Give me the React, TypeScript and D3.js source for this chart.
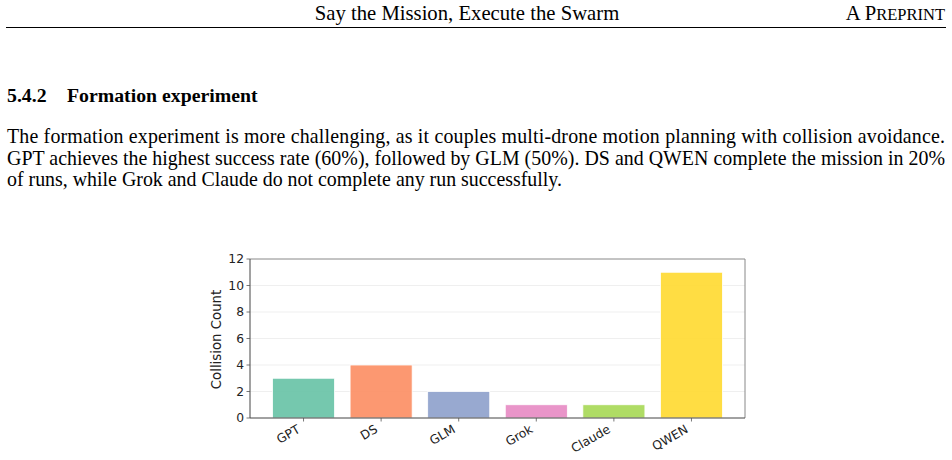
import React, { useEffect, useRef } from 'react';
import * as d3 from 'd3';

const models = ['GPT', 'DS', 'GLM', 'Grok', 'Claude', 'QWEN'];
const collisions = [3, 4, 2, 1, 1, 11];
const barColors = ['#66c2a5', '#fc8d62', '#8da0cb', '#e78ac3', '#a6d854', '#ffd92f'];
const yTicks = [0, 2, 4, 6, 8, 10, 12];

const paragraph = [
  'The formation experiment is more challenging, as it couples multi-drone motion planning with collision avoidance.',
  'GPT achieves the highest success rate (60%), followed by GLM (50%). DS and QWEN complete the mission in 20%',
  'of runs, while Grok and Claude do not complete any run successfully.',
];

const serif = '"Liberation Serif", "Times New Roman", serif';
const sans = '"DejaVu Sans", sans-serif';

const App = () => {
  const ref = useRef<SVGSVGElement>(null);

  useEffect(() => {
    const svg = d3.select(ref.current);
    svg.selectAll('*').remove();

    // page header
    svg.append('text')
      .attr('x', 467).attr('y', 20)
      .attr('text-anchor', 'middle')
      .style('font-family', serif).style('font-size', '20.7px')
      .text('Say the Mission, Execute the Swarm');
    const pre = svg.append('text')
      .attr('x', 945).attr('y', 20)
      .attr('text-anchor', 'end')
      .style('font-family', serif).style('font-size', '20.7px');
    pre.append('tspan').text('A P');
    pre.append('tspan').style('font-size', '16.5px').text('REPRINT');
    svg.append('line')
      .attr('x1', 6).attr('x2', 946).attr('y1', 27.5).attr('y2', 27.5)
      .attr('stroke', '#000').attr('stroke-width', 1);

    // section heading
    const h = svg.append('text')
      .attr('y', 102)
      .style('font-family', serif).style('font-size', '19.8px').style('font-weight', 'bold');
    h.append('tspan').attr('x', 7).text('5.4.2');
    h.append('tspan').attr('x', 67).text('Formation experiment');

    paragraph.forEach((line, i) => {
      const t = svg.append('text')
        .attr('x', 7).attr('y', 143 + i * 21.5)
        .style('font-family', serif).style('font-size', '19.9px')
        .text(line);
      if (i < paragraph.length - 1) {
        t.attr('textLength', 938).attr('lengthAdjust', 'spacing');
      }
    });

    // chart
    const left = 250, right = 745, top = 259, bottom = 418;
    const x = d3.scaleLinear().domain([-0.69, models.length - 1 + 0.69]).range([left, right]);
    const y = d3.scaleLinear().domain([0, 12]).range([bottom, top]);
    const bw = 0.8;

    const g = svg.append('g');

    g.selectAll('.grid')
      .data(yTicks.filter(d => d > 0 && d < 12))
      .enter().append('line')
      .attr('x1', left).attr('x2', right)
      .attr('y1', d => y(d)).attr('y2', d => y(d))
      .attr('stroke', '#b0b0b0').attr('stroke-opacity', 0.25).attr('stroke-width', 0.8);

    g.selectAll('.bar')
      .data(models)
      .enter().append('rect')
      .attr('x', (d, i) => x(i - bw / 2))
      .attr('width', x(bw) - x(0))
      .attr('y', (d, i) => y(collisions[i]))
      .attr('height', (d, i) => y(0) - y(collisions[i]))
      .attr('fill', (d, i) => barColors[i])
      .attr('fill-opacity', 0.9)
      .attr('stroke', '#fff').attr('stroke-width', 0.8);

    // spines
    g.append('line').attr('x1', left).attr('x2', right).attr('y1', top).attr('y2', top)
      .attr('stroke', '#888').attr('stroke-width', 1);
    g.append('line').attr('x1', right).attr('x2', right).attr('y1', top).attr('y2', bottom)
      .attr('stroke', '#888').attr('stroke-width', 1);
    g.append('line').attr('x1', left).attr('x2', left).attr('y1', top).attr('y2', bottom)
      .attr('stroke', '#444').attr('stroke-width', 1);
    g.append('line').attr('x1', left).attr('x2', right).attr('y1', bottom).attr('y2', bottom)
      .attr('stroke', '#444').attr('stroke-width', 1);

    // y ticks
    const yt = g.selectAll('.yt').data(yTicks).enter().append('g')
      .attr('transform', d => `translate(${left},${y(d)})`);
    yt.append('line').attr('x1', -3.5).attr('x2', 0).attr('stroke', '#555').attr('stroke-width', 0.8);
    yt.append('text')
      .attr('x', -6).attr('dy', '0.36em')
      .attr('text-anchor', 'end')
      .style('font-family', sans).style('font-size', '12.3px').attr('fill', '#222')
      .text(d => d);

    g.append('text')
      .attr('transform', `translate(221,${(top + bottom) / 2 + 1}) rotate(-90)`)
      .attr('text-anchor', 'middle')
      .style('font-family', sans).style('font-size', '13.3px').attr('fill', '#222')
      .text('Collision Count');

    // x ticks
    const xt = g.selectAll('.xt').data(models).enter().append('g')
      .attr('transform', (d, i) => `translate(${x(i)},${bottom})`);
    xt.append('line').attr('y1', 0).attr('y2', 3.5).attr('stroke', '#555').attr('stroke-width', 0.8);
    xt.append('text')
      .attr('transform', 'translate(-7,6) rotate(-30)')
      .attr('dy', '0.72em')
      .attr('text-anchor', 'end')
      .style('font-family', sans).style('font-size', '12.3px').attr('fill', '#222')
      .text(d => d);
  }, []);

  return (
    <>
      <style>{'body{margin:0;background:#fff}'}</style>
      <svg ref={ref} width={952} height={460} style={{ display: 'block', background: '#fff' }} />
    </>
  );
};

export default App;
